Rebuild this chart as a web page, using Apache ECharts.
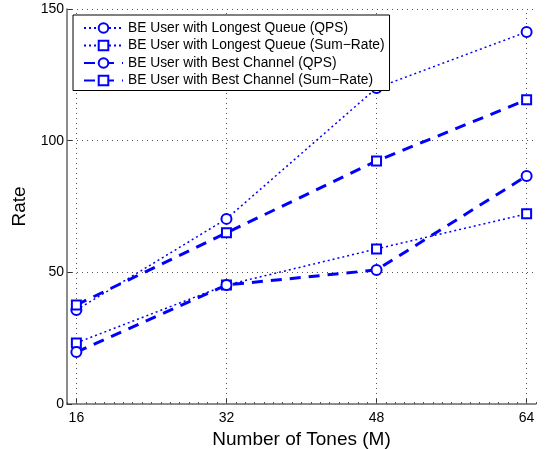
<!DOCTYPE html>
<html>
<head>
<meta charset="utf-8">
<script src="https://cdn.jsdelivr.net/npm/echarts@6/dist/echarts.min.js"></script>
<style>
html,body{margin:0;padding:0;background:#fff;}
#chart{width:550px;height:449px;}
</style>
</head>
<body>
<div id="chart"></div>
<script>
var tones = [16, 32, 48, 64];
var lqQps = [35.7, 70.3, 120.0, 141.3];
var lqSum = [23.2, 45.2, 58.9, 72.2];
var bcQps = [19.7, 45.2, 50.9, 86.6];
var bcSum = [37.6, 65.0, 92.3, 115.5];
var xTicks = [16, 32, 48, 64];
var yGridTicks = [50, 100, 150];
var seriesNames = [
  'BE User with Longest Queue (QPS)',
  'BE User with Longest Queue (Sum\u2212Rate)',
  'BE User with Best Channel (QPS)',
  'BE User with Best Channel (Sum\u2212Rate)'
];

function pairs(ys) { return tones.map(function (x, i) { return [x, ys[i]]; }); }

var FONT = 'Liberation Sans, Arial, Helvetica, sans-serif';
var BLUE = '#0000ff';
var dotted = { color: BLUE, width: 1.5, type: [2, 3] };
var dashed = { color: BLUE, width: 3, type: [11, 8] };

function mkSeries(name, ys, symbol, size, ls) {
  return {
    name: name, type: 'line', data: pairs(ys),
    symbol: symbol, symbolSize: size, showSymbol: true,
    lineStyle: ls,
    itemStyle: { color: BLUE, borderColor: BLUE, borderWidth: 2.5 },
    z: 5, animation: false
  };
}

var gridLines = xTicks.map(function (v) { return { xAxis: v }; })
  .concat(yGridTicks.map(function (v) { return { yAxis: v }; }));

var chart = echarts.init(document.getElementById('chart'), null, { renderer: 'canvas' });
chart.setOption({
  animation: false,
  backgroundColor: '#fff',
  textStyle: { fontFamily: FONT },
  grid: { left: 67, right: 14, top: 9, bottom: 45, containLabel: false, outerBoundsMode: 'none' },
  legend: {
    data: seriesNames,
    orient: 'vertical',
    left: 73, top: 15,
    padding: [6, 5, 3, 10],
    itemGap: 3.5,
    itemWidth: 39, itemHeight: 12,
    borderColor: '#000', borderWidth: 1,
    backgroundColor: '#fff',
    textStyle: { fontFamily: FONT, fontSize: 13.8, lineHeight: 13, color: '#000' },
    z: 10
  },
  xAxis: [{
    type: 'value', min: 15, max: 65,
    axisLine: { show: true, lineStyle: { color: '#666', width: 1.5 } },
    axisTick: { show: true, inside: true, length: 5, customValues: xTicks, lineStyle: { color: '#333' } },
    axisLabel: { show: true, customValues: xTicks, fontSize: 14, color: '#000', fontFamily: FONT, margin: 7 },
    splitLine: { show: false },
    name: 'Number of Tones (M)', nameLocation: 'middle', nameGap: 21,
    nameTextStyle: { fontSize: 19, color: '#000', fontFamily: FONT }
  }, {
    type: 'value', min: 15, max: 65, interval: 1, position: 'bottom', offset: 0,
    axisLine: { show: false },
    axisTick: { show: true, inside: true, length: 2, lineStyle: { color: '#555' } },
    axisLabel: { show: false },
    splitLine: { show: false }
  }],
  yAxis: {
    type: 'value', min: 0, max: 150, interval: 50,
    axisLine: { show: true, lineStyle: { color: '#666', width: 1.5 } },
    axisTick: { show: true, inside: true, length: 5, lineStyle: { color: '#333' } },
    axisLabel: { fontSize: 14, color: '#000', fontFamily: FONT, margin: 3 },
    splitLine: { show: false },
    name: 'Rate', nameLocation: 'middle', nameGap: 31, nameRotate: 90,
    nameTextStyle: { fontSize: 19, color: '#000', fontFamily: FONT }
  },
  series: [
    {
      type: 'line', data: [], silent: true, z: 1,
      markLine: {
        silent: true, symbol: 'none', animation: false,
        label: { show: false },
        lineStyle: { color: '#555', width: 1, type: [1, 4] },
        emphasis: { disabled: true },
        data: gridLines
      }
    },
    mkSeries(seriesNames[0], lqQps, 'emptyCircle', 10, dotted),
    mkSeries(seriesNames[1], lqSum, 'emptyRect', 9, dotted),
    mkSeries(seriesNames[2], bcQps, 'emptyCircle', 10, dashed),
    mkSeries(seriesNames[3], bcSum, 'emptyRect', 9, dashed)
  ]
});
</script>
</body>
</html>
